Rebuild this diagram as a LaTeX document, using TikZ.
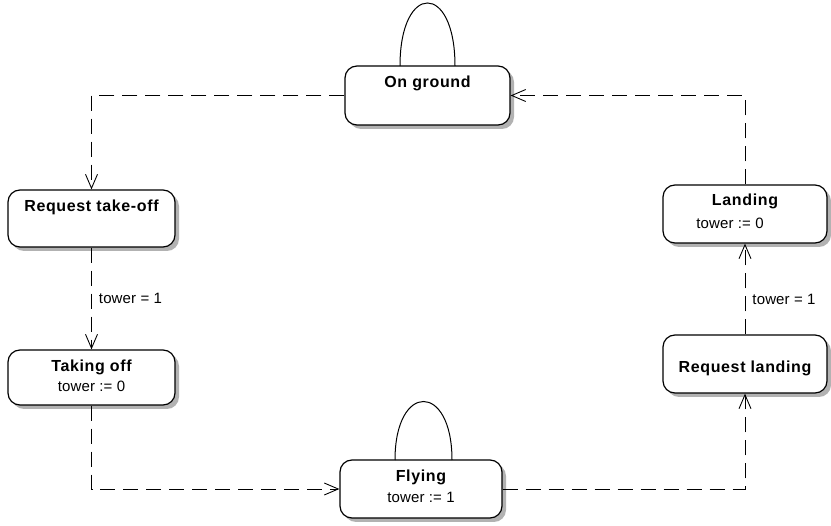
\documentclass[tikz,border=0pt]{standalone}
\usepackage{fontspec}
\setmainfont{Liberation Sans}
\usetikzlibrary{arrows.meta,shadows}
\begin{document}
\begin{tikzpicture}[x=1pt,y=-1pt,
  state/.style={draw=black,line width=1.2pt,rounded corners=12pt,fill=white,
    minimum width=#1,inner sep=0pt,
    drop shadow={shadow xshift=4pt,shadow yshift=-4pt,fill=black!30,opacity=1}},
  title/.style={font=\bfseries\fontsize{16}{18}\selectfont\addfontfeatures{LetterSpace=4},inner sep=0pt},
  info/.style={font=\fontsize{15}{17}\selectfont\addfontfeatures{LetterSpace=1},inner sep=0pt},
  trans/.style={line width=0.9pt,dash pattern=on 15pt off 8pt,-{Straight Barb[length=14pt,width=12pt,line width=0.9pt]}},
  loop/.style={line width=1pt}]
\useasboundingbox (0,0) rectangle (831,526);
% states
\node[state=165pt,minimum height=59pt] (og) at (427.5,95.5) {};
\node[state=167pt,minimum height=57pt] (rto) at (91.5,218.5) {};
\node[state=167pt,minimum height=55pt] (tko) at (91.5,377.5) {};
\node[state=162pt,minimum height=58pt] (fly) at (421,489) {};
\node[state=164pt,minimum height=58pt] (rl) at (745,364) {};
\node[state=164pt,minimum height=58pt] (ld) at (745,214) {};
% texts
\node[title] (ogt) at (427.5,83) {On ground};
\node[title] (rtot) at (91.5,207) {Request take-off};
\node[title] (tkot) at (91.5,367) {Taking off};
\node[info] (tkoi) at (91.5,386) {tower := 0};
\node[title] (flyt) at (421,477) {Flying};
\node[info] (flyi) at (421,497) {tower := 1};
\node[title] (rlt) at (745,368) {Request landing};
\node[title] (ldt) at (745,201) {Landing};
\node[info] (ldi) at (730,223) {tower := 0};
% self loops
\coordinate (ogl) at (400,66);
\coordinate (ogr) at (455,66);
\draw[loop] (ogl) .. controls (400,-18) and (455,-18) .. (ogr);
\coordinate (flyl) at (395,460);
\coordinate (flyr) at (452,460);
\draw[loop] (flyl) .. controls (395,382) and (452,382) .. (flyr);
% transitions
\draw[trans] (og.west) -| (rto.north);
\draw[trans] (rto.south) -- node[info,right=7pt] (l1) {tower = 1} (tko.north);
\draw[trans] (tko.south) |- (fly.west);
\draw[trans] (fly.east) -| (rl.south);
\draw[trans] (rl.north) -- node[info,right=7pt,yshift=-10pt] (l2) {tower = 1} (ld.south);
\draw[trans] (ld.north) |- (og.east);
\end{tikzpicture}
\end{document}
